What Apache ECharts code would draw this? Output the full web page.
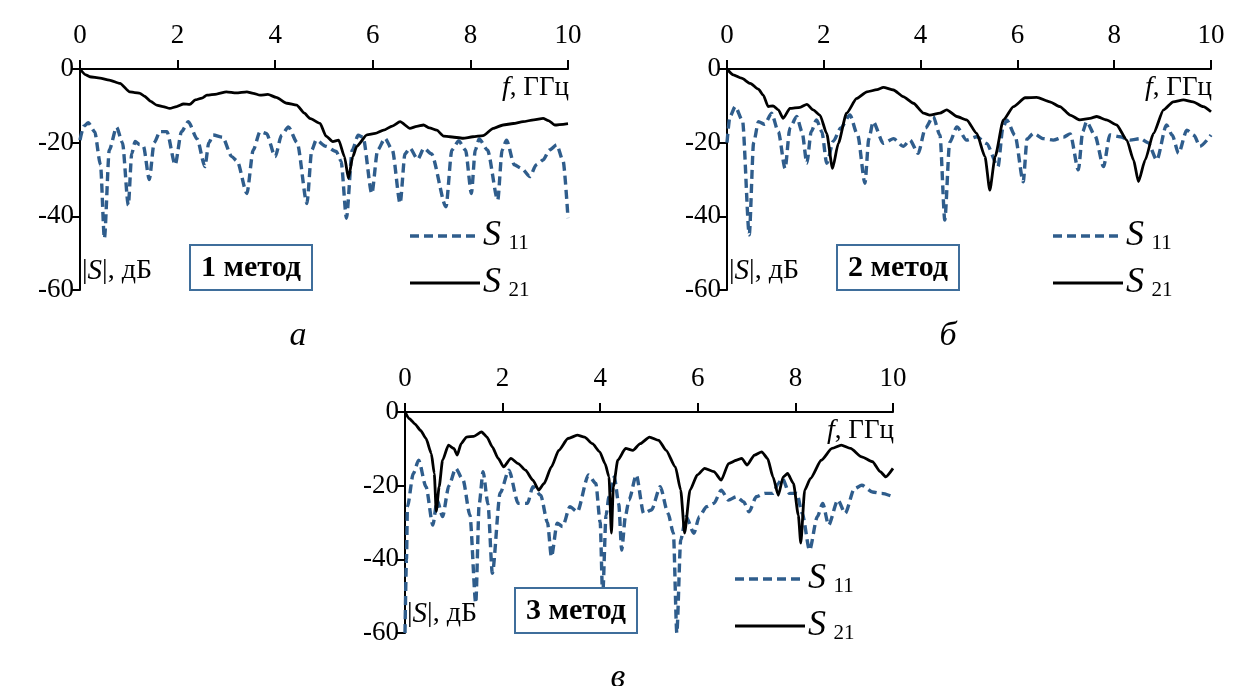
<!DOCTYPE html>
<html>
<head>
<meta charset="utf-8">
<script src="https://cdn.jsdelivr.net/npm/echarts@6/dist/echarts.min.js"></script>
<style>
html,body{margin:0;padding:0;background:#fff;}
#c{width:1235px;height:686px;}
</style>
</head>
<body>
<div id="c"></div>
<script>
// ---- tick labels ----
const xTicks = [0, 2, 4, 6, 8, 10];
const yTicks = [0, -20, -40, -60];
const methodLabels = ['1 метод', '2 метод', '3 метод'];
const panelLetters = ['а', 'б', 'в'];

// ---- panel a (1 метод): [f GHz, |S| dB] ----
const a_s21 = [[0,0],[0.12,-1.6],[0.2,-2.1],[0.41,-2.5],[0.6,-3],[0.82,-3.9],[1.02,-6.2],[1.12,-6.4],[1.23,-6.6],[1.32,-7.4],[1.45,-8.8],[1.57,-9.8],[1.7,-10.2],[1.84,-10.7],[1.98,-10.2],[2.12,-9.5],[2.25,-9.6],[2.36,-8.4],[2.5,-7.9],[2.6,-7.1],[2.8,-6.8],[3.0,-6.2],[3.2,-6.5],[3.42,-6.2],[3.55,-6.6],[3.69,-7.1],[3.85,-6.9],[4.02,-7.7],[4.24,-9.3],[4.44,-9.8],[4.6,-12],[4.71,-13.4],[4.92,-14.8],[5.04,-18.2],[5.18,-19.7],[5.3,-19.3],[5.42,-23.8],[5.5,-29.7],[5.59,-23.8],[5.67,-21],[5.88,-17.9],[6.05,-17.5],[6.22,-16.6],[6.4,-15.5],[6.56,-14.3],[6.76,-16.1],[6.9,-15.6],[7.04,-15.2],[7.16,-16],[7.31,-16.6],[7.45,-18.2],[7.58,-18.4],[7.85,-18.8],[8.05,-18.4],[8.26,-18.1],[8.47,-16.1],[8.67,-15.2],[8.88,-14.8],[9.08,-14.3],[9.3,-13.8],[9.49,-13.4],[9.6,-14],[9.73,-15.2],[10,-14.8]];
const a_s11 = [[0,-19.3],[0.08,-15.5],[0.17,-14.6],[0.3,-17],[0.42,-26],[0.5,-46],[0.6,-22],[0.75,-15.8],[0.87,-20],[0.99,-37],[1.06,-23],[1.13,-19.7],[1.22,-20.5],[1.3,-21],[1.42,-30],[1.52,-20],[1.64,-17],[1.78,-17],[1.95,-26],[2.08,-17],[2.22,-14.3],[2.4,-19],[2.56,-26.5],[2.64,-20],[2.73,-17.9],[2.92,-18.5],[3.11,-23.8],[3.22,-25],[3.42,-33.8],[3.55,-22],[3.69,-17],[3.82,-17.5],[4.0,-23.8],[4.13,-18],[4.27,-15.7],[4.45,-20],[4.65,-36.5],[4.75,-22],[4.84,-19.3],[5.04,-21],[5.25,-22.4],[5.35,-25],[5.46,-40.5],[5.58,-22],[5.7,-18],[5.8,-18.5],[5.98,-33.8],[6.1,-22],[6.25,-18.8],[6.4,-22],[6.56,-36.5],[6.66,-23],[6.76,-21.5],[6.92,-24.5],[7.05,-21.5],[7.2,-23],[7.5,-37.4],[7.62,-22],[7.76,-19.5],[7.9,-22],[8.02,-33.8],[8.1,-22],[8.18,-19],[8.35,-22],[8.56,-35.6],[8.65,-22],[8.74,-19.3],[8.9,-26],[9.05,-27],[9.22,-29.2],[9.35,-26],[9.49,-24.7],[9.62,-22],[9.77,-20.6],[9.9,-25],[10,-40.5]];

// ---- panel b (2 метод) ----
const b_s21 = [[0,0],[0.13,-1.6],[0.3,-2.5],[0.48,-3.9],[0.65,-5.5],[0.75,-7.1],[0.85,-10.2],[0.95,-10],[1.06,-11.1],[1.16,-13.4],[1.3,-10.7],[1.51,-10.4],[1.65,-9.6],[1.78,-11.1],[1.92,-12.5],[2.06,-17.5],[2.18,-27],[2.3,-20.2],[2.47,-12],[2.68,-8],[2.89,-6.2],[3.1,-5.6],[3.23,-5],[3.44,-5.7],[3.64,-7.5],[3.85,-9.3],[4.06,-12],[4.19,-12.5],[4.4,-12],[4.54,-11.1],[4.75,-12.9],[4.95,-13.8],[5.16,-17.5],[5.33,-23.8],[5.43,-32.9],[5.54,-23.8],[5.71,-13.8],[5.92,-10.2],[6.16,-7.8],[6.4,-7.7],[6.67,-8.9],[6.88,-10.2],[7.09,-12.5],[7.29,-13.8],[7.5,-13.4],[7.64,-12.9],[7.84,-13.8],[8.05,-15.2],[8.26,-19.3],[8.4,-24.7],[8.5,-30.6],[8.64,-24.7],[8.81,-17.5],[9.02,-11.1],[9.22,-8.9],[9.43,-8.4],[9.63,-8.9],[9.84,-10.2],[10,-11.6]];
const b_s11 = [[0,-20],[0.06,-13],[0.17,-10.2],[0.32,-14],[0.46,-45],[0.55,-20],[0.65,-14.3],[0.78,-15],[0.92,-12],[1.06,-17],[1.2,-27],[1.3,-16],[1.44,-12.9],[1.55,-17],[1.65,-25.6],[1.74,-17],[1.85,-13.8],[1.96,-17],[2.06,-25.6],[2.2,-19.5],[2.35,-16],[2.54,-12.5],[2.7,-18],[2.85,-31],[2.93,-19],[3.02,-14.3],[3.23,-20.2],[3.44,-18.9],[3.64,-21],[3.78,-19.3],[3.95,-22.9],[4.1,-16],[4.26,-12.9],[4.4,-18],[4.5,-41],[4.6,-20],[4.75,-15.7],[4.95,-19.3],[5.16,-18.4],[5.36,-20.2],[5.6,-26.5],[5.7,-16],[5.78,-13.8],[5.95,-18],[6.12,-30.6],[6.2,-19],[6.33,-17.5],[6.54,-18.9],[6.74,-19.3],[6.95,-18.5],[7.09,-17.6],[7.26,-27.4],[7.35,-17],[7.43,-14.3],[7.6,-18],[7.78,-26.5],[7.91,-17.9],[8.12,-18.4],[8.33,-19.3],[8.54,-18.9],[8.7,-20],[8.88,-24.7],[9.08,-15.2],[9.2,-18],[9.33,-22.9],[9.5,-16.6],[9.65,-18],[9.77,-21],[10,-17.9]];

// ---- panel c (3 метод) ----
const c_s21 = [[0,0],[0.09,-1.8],[0.2,-3.2],[0.32,-5],[0.43,-7.2],[0.54,-11.3],[0.6,-16.7],[0.64,-27],[0.7,-20.3],[0.77,-13.1],[0.89,-9],[1.0,-9.9],[1.07,-11.7],[1.15,-8.6],[1.26,-6.8],[1.41,-6.6],[1.57,-5.4],[1.68,-6.8],[1.79,-9.5],[1.91,-12.6],[2.02,-14.9],[2.17,-12.6],[2.32,-14],[2.47,-15.8],[2.62,-18.5],[2.74,-21.2],[2.85,-19.4],[3.0,-14.9],[3.15,-10.4],[3.34,-7.2],[3.53,-6.3],[3.68,-6.8],[3.84,-8.6],[3.99,-10.8],[4.1,-14],[4.18,-17.6],[4.23,-32.9],[4.27,-20.3],[4.36,-13.1],[4.52,-9.9],[4.67,-10.4],[4.82,-8.6],[5.01,-6.8],[5.2,-7.7],[5.35,-10.4],[5.54,-14.9],[5.65,-21.2],[5.73,-32.9],[5.84,-21.2],[5.99,-17.1],[6.14,-15.3],[6.33,-16.2],[6.48,-18.5],[6.63,-14],[6.79,-13.1],[6.9,-12.6],[7.01,-14.4],[7.16,-11.7],[7.31,-10.8],[7.43,-12.6],[7.54,-17.6],[7.65,-22.6],[7.75,-17.6],[7.84,-16.7],[7.96,-19.4],[8.06,-28],[8.11,-35.6],[8.19,-21.2],[8.31,-18],[8.53,-13.1],[8.75,-9.9],[8.94,-9],[9.13,-9.9],[9.36,-12.2],[9.58,-13.5],[9.74,-16.2],[9.85,-17.6],[10,-15.3]];
const c_s11 = [[0,-60],[0.03,-40],[0.05,-25.7],[0.17,-16.7],[0.28,-13.1],[0.43,-20.3],[0.57,-30.7],[0.66,-23.9],[0.77,-28.4],[0.9,-20],[1.04,-15.3],[1.19,-18.5],[1.33,-28],[1.45,-51.9],[1.52,-25],[1.6,-16.2],[1.7,-25],[1.79,-43.8],[1.95,-22],[2.13,-15.8],[2.32,-24.8],[2.51,-24.8],[2.62,-20.3],[2.78,-22.6],[2.92,-30],[3.0,-39.3],[3.12,-30.2],[3.23,-31.1],[3.38,-25.7],[3.53,-27.1],[3.76,-17.1],[3.91,-19.4],[4.0,-30],[4.05,-50],[4.12,-28],[4.18,-23],[4.29,-17.6],[4.38,-25],[4.44,-37.5],[4.52,-28],[4.59,-23.9],[4.74,-17.1],[4.89,-27.5],[5.05,-26.6],[5.23,-20.3],[5.39,-27.5],[5.5,-32.9],[5.57,-60],[5.65,-34.7],[5.76,-28.4],[5.92,-32.9],[6.03,-28.4],[6.18,-25.7],[6.33,-24.8],[6.48,-21.2],[6.63,-23.9],[6.79,-23],[6.94,-24.4],[7.05,-27.1],[7.2,-23],[7.38,-22.1],[7.54,-22.1],[7.65,-19.4],[7.73,-18],[7.88,-22.1],[8.03,-22.1],[8.14,-27.5],[8.29,-37.5],[8.45,-28.4],[8.56,-24.8],[8.68,-30.7],[8.87,-23.9],[9.02,-27.5],[9.21,-20.8],[9.36,-19.9],[9.58,-21.7],[9.77,-22.1],[10,-23]];

const FONT = '"Liberation Serif", "Times New Roman", serif';
const BLUE = '#2f5d8c';
const BOXC = '#3f6e9b';

const panels = [
  {grid:{left:80, top:69, width:488, height:221}, s11:a_s11, s21:a_s21},
  {grid:{left:727, top:69, width:484, height:221}, s11:b_s11, s21:b_s21},
  {grid:{left:405, top:412, width:488, height:221}, s11:c_s11, s21:c_s21}
];

const chart = echarts.init(document.getElementById('c'), null, {renderer:'canvas'});

const axisCommon = {
  axisLine:{show:true, onZero:false, lineStyle:{color:'#000', width:2}},
  axisTick:{show:true, length:9, lineStyle:{color:'#000', width:2}},
  splitLine:{show:false},
  axisLabel:{fontFamily:FONT, fontSize:27, color:'#000'}
};

const grids = [], xAxes = [], yAxes = [], series = [], graphics = [];
panels.forEach((p, i) => {
  grids.push(Object.assign({containLabel:false}, p.grid));
  xAxes.push(Object.assign({}, axisCommon, {
    type:'value', gridIndex:i, position:'top', min:xTicks[0], max:xTicks[xTicks.length-1], interval:xTicks[1]-xTicks[0],
    axisLabel:Object.assign({}, axisCommon.axisLabel, {margin:20})
  }));
  yAxes.push(Object.assign({}, axisCommon, {
    type:'value', gridIndex:i, position:'left', min:yTicks[yTicks.length-1], max:yTicks[0], interval:yTicks[0]-yTicks[1],
    axisLabel:Object.assign({}, axisCommon.axisLabel, {margin:6})
  }));
  series.push({
    type:'line', xAxisIndex:i, yAxisIndex:i, data:p.s11, showSymbol:false, symbol:'none',
    smooth:0.25, smoothMonotone:'x',
    lineStyle:{color:BLUE, width:3.4, type:[9,5]}, z:2, animation:false
  });
  series.push({
    type:'line', xAxisIndex:i, yAxisIndex:i, data:p.s21, showSymbol:false, symbol:'none',
    smooth:0.2, smoothMonotone:'x',
    lineStyle:{color:'#000', width:2.8}, z:3, animation:false
  });

  const L = p.grid.left, T = p.grid.top, R = L + p.grid.width, B = T + p.grid.height;
  // axis name f, ГГц
  graphics.push({type:'text', z:10, x:R + 1, y:T + 19, style:{
    text:'{i|f}, ГГц', align:'right', verticalAlign:'middle', font:'27px ' + FONT, fill:'#000',
    rich:{i:{fontStyle:'italic', fontSize:28, fontFamily:FONT}}
  }});
  // |S|, дБ
  graphics.push({type:'text', z:10, x:L + 2, y:B - 19, style:{
    text:'|{i|S}|, дБ', align:'left', verticalAlign:'middle', font:'28px ' + FONT, fill:'#000',
    rich:{i:{fontStyle:'italic', fontSize:29, fontFamily:FONT}}
  }});
  // method box
  graphics.push({type:'rect', z:10, shape:{x:L + 110, y:B - 45, width:122, height:45},
    style:{fill:'#fff', stroke:BOXC, lineWidth:2}});
  graphics.push({type:'text', z:11, x:L + 171, y:B - 22, style:{
    text:methodLabels[i], align:'center', verticalAlign:'middle', font:'bold 30px ' + FONT, fill:'#000'
  }});
  // legend
  const lx = R - 158;
  graphics.push({type:'line', z:10, shape:{x1:lx, y1:B - 54, x2:lx + 70, y2:B - 54},
    style:{stroke:BLUE, lineWidth:3.4, lineDash:[9,5]}});
  graphics.push({type:'line', z:10, shape:{x1:lx, y1:B - 7, x2:lx + 70, y2:B - 7},
    style:{stroke:'#000', lineWidth:2.8}});
  graphics.push({type:'text', z:10, x:lx + 73, y:B - 54, style:{
    text:'{s|S} {b|11}', align:'left', verticalAlign:'middle', fill:'#000', font:'30px ' + FONT,
    rich:{s:{fontStyle:'italic', fontSize:36, fontFamily:FONT}, b:{fontSize:21, fontFamily:FONT, padding:[14,0,0,0]}}
  }});
  graphics.push({type:'text', z:10, x:lx + 73, y:B - 7, style:{
    text:'{s|S} {b|21}', align:'left', verticalAlign:'middle', fill:'#000', font:'30px ' + FONT,
    rich:{s:{fontStyle:'italic', fontSize:36, fontFamily:FONT}, b:{fontSize:21, fontFamily:FONT, padding:[14,0,0,0]}}
  }});
});
// panel letters
const letterPos = [[298, 336], [948, 336], [618, 678]];
panelLetters.forEach((t, i) => {
  graphics.push({type:'text', z:10, x:letterPos[i][0], y:letterPos[i][1], style:{
    text:t, align:'center', verticalAlign:'middle', font:'italic 34px ' + FONT, fill:'#000'
  }});
});

chart.setOption({
  animation:false,
  backgroundColor:'#fff',
  grid:grids, xAxis:xAxes, yAxis:yAxes, series:series, graphic:graphics
});
</script>
</body>
</html>
